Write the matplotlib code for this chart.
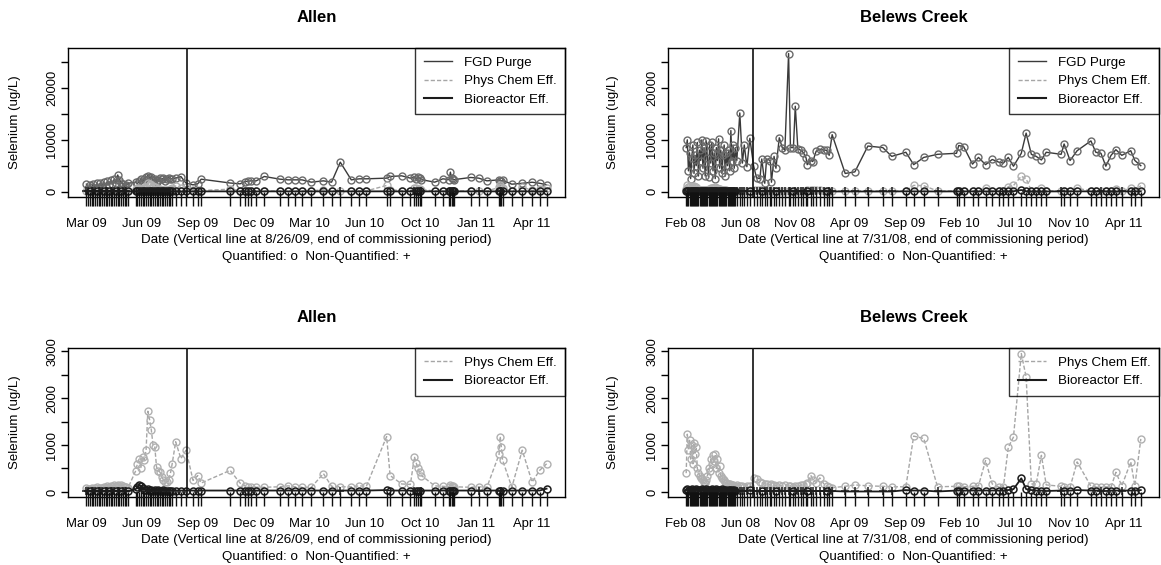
import numpy as np
import pandas as pd
import matplotlib
matplotlib.use("Agg")
import matplotlib.pyplot as plt
import matplotlib.dates as mdates
from matplotlib.lines import Line2D
from matplotlib.ticker import MultipleLocator, FuncFormatter

plt.rcParams['font.family'] = ['Liberation Sans', 'DejaVu Sans']

# ---- Allen: sample days counted from 2009-03-05 ----
allen_start = "2009-03-05"
allen_days = [0, 3, 6, 9, 12, 15, 18, 21, 24, 27, 30, 33, 36, 39, 42, 45, 48, 51, 54, 57, 60, 63, 66, 69, 72,
              85, 88, 91, 94, 97, 100, 103, 106, 109, 112, 115, 118, 121, 124, 127, 130, 133, 136, 139, 142, 145, 148,
              154, 163, 172, 184, 192, 198, 248, 265, 274, 279, 284, 293, 307, 334, 348, 360, 372, 388, 409, 423,
              438, 457, 471, 483, 518, 524, 544, 559, 566, 569, 572, 575, 578, 601, 615, 626, 628, 630, 632, 634,
              663, 677, 691, 712, 714, 716, 718, 734, 752, 769, 782, 794]
allen_fgd = [1420, 600, 1300, 800, 1500, 700, 1600, 900, 1700, 1100, 1800, 1000, 2000, 1300, 2200, 1500, 2400,
             1600, 3200, 2300, 1700, 1400, 1000, 1200, 1600,
             1800, 1500, 2000, 2400, 1900, 2500, 2800, 3100, 2600, 2900, 2200, 2500, 1900, 2300, 2700, 2400, 2600,
             2100, 2500, 2700, 2400, 2500,
             2600, 2900, 1600, 1290, 1490, 2390, 1650, 1490, 1940, 2000, 2070, 2070, 2910, 2390, 2260, 2260, 2260,
             1810, 2070, 1810, 5680, 2260, 2460, 2460, 2590, 2910, 3040, 2590, 2720, 2500, 2800, 2600, 2300, 1810,
             2460, 2300, 3750, 2600, 2460, 2300, 2720, 2590, 2070, 2260, 2100, 2000, 2200, 1420, 1600, 1800, 1600, 1300]
allen_pc = [80, 60, 70, 90, 60, 80, 100, 70, 90, 80, 110, 90, 120, 100, 130, 110, 140, 120, 150, 130, 140, 120,
            110, 100, 90,
            450, 600, 700, 520, 750, 680, 900, 1720, 1540, 1320, 1000, 960, 530, 450, 420, 320, 260, 210, 210, 250,
            400, 600,
            1070, 710, 890, 245, 350, 190, 460, 190, 130, 110, 100, 100, 100, 110, 130, 110, 100, 100, 390, 120,
            110, 110, 130, 120, 1180, 350, 170, 160, 750, 620, 500, 420, 350, 130, 120, 110, 140, 120, 130, 110,
            100, 110, 100, 800, 1180, 950, 680, 100, 890, 210, 460, 600]
allen_bio = [20, 15, 25, 20, 15, 20, 30, 20, 25, 20, 15, 20, 30, 25, 20, 25, 30, 20, 25, 20, 15, 20, 25, 20, 15,
             60, 100, 150, 120, 80, 50, 40, 60, 30, 40, 30, 50, 30, 40, 30, 30, 40, 30, 30, 30, 30, 30,
             30, 30, 30, 30, 25, 30, 30, 30, 25, 30, 30, 30, 30, 30, 30, 30, 30, 30, 30, 30, 30, 30, 30, 30,
             40, 30, 30, 30, 30, 30, 30, 30, 30, 30, 30, 30, 30, 30, 30, 30, 30, 30, 30, 30, 30, 30, 30, 30,
             30, 30, 30, 70]
# o = quantified, + = non-quantified
allen_bio_flag = ("++o+++o+++o++o+++o++o+++o" + "o" * 22 +
                  "o" * 20 + "+" + "o" * 7 + "+" + "o" * 3 + "+" + "o" * 8 + "+" + "o" * 3 + "+" + "o" * 6)
allen_ticks = ["2009-03-05", "2009-06-09", "2009-09-13", "2009-12-18", "2010-03-24",
               "2010-06-28", "2010-10-02", "2011-01-06", "2011-04-12"]
allen_end_commission = "2009-08-26"

# ---- Belews Creek: sample days counted from 2008-02-03 ----
belews_start = "2008-02-03"
belews_days = [0, 3, 6, 9, 12, 15, 18, 21, 24, 27, 30, 33, 36, 39, 42, 45, 48, 51, 54, 57, 60, 63, 66, 69, 72,
               75, 78, 81, 84, 87, 90, 93, 96, 99, 102, 105, 108, 111, 114, 117, 120, 123, 126, 129, 132,
               136, 144, 151, 156, 163, 171, 181, 189, 198, 203, 211, 216, 226, 229, 236, 241, 250, 258, 265,
               275, 280, 288, 293, 300, 308, 315, 322, 325, 335, 340, 349, 359, 369, 377, 384, 392,
               427, 453, 488, 528, 552,
               590, 611, 638, 675, 726, 732, 745, 769, 785, 804, 822, 839, 852, 865, 879, 900, 913, 927, 940,
               954, 967, 1007, 1015, 1031, 1050, 1087, 1100, 1114, 1127, 1141, 1154, 1170, 1194, 1205, 1221]
belews_fgd = [8500, 10000, 4000, 7500, 2500, 6500, 9000, 3500, 7000, 5000, 9500, 3000, 8000, 6000, 10000, 4500,
              8500, 3000, 9800, 6500, 2800, 9000, 5500, 9500, 4000, 7500, 2500, 8500, 6000, 10200, 4500, 8000,
              3500, 7000, 9000, 3000, 7500, 5000, 8000, 4000, 11800, 6000, 9000, 4500, 8500,
              6000, 15200, 5500, 9000, 4800, 10300, 5000, 2600, 2500, 6300, 1600, 6300, 6000, 1800, 6800, 4500,
              10400, 8500, 8000, 26700, 8500, 8500, 16500, 8200, 8000, 7500, 6500, 5200, 6000, 5800, 7800, 8200,
              8000, 8000, 7000, 11000,
              3500, 3800, 8800, 8500, 6800,
              7600, 5200, 6600, 7200, 7400, 8900, 8700, 5300, 6600, 5200, 6200, 5700, 5500, 6600, 4900, 7400,
              11300, 7200, 6800, 6100, 7600, 7200, 9200, 6000, 7900, 9800, 7600, 7400, 4900, 7000, 8100, 7000,
              7900, 6000, 5000]
belews_pc = [400, 1230, 900, 1100, 700, 1000, 600, 1050, 800, 950, 500, 400, 350, 300, 280, 250, 220, 200, 250,
             350, 500, 450, 700, 600, 780, 650, 800, 500, 700, 400, 550, 350, 300, 280, 250, 220, 200, 180, 170,
             160, 150, 150, 140, 130, 130,
             150, 130, 120, 110, 130, 120, 300, 280, 220, 200, 180, 160, 150, 170, 140, 130, 150, 120, 140, 130,
             120, 110, 130, 120, 140, 150, 180, 200, 350, 250, 200, 300, 180, 120, 100, 90,
             120, 150, 130, 120, 110,
             110, 1190, 1140, 110, 120, 120, 110, 120, 130, 670, 170, 110, 110, 950, 1170, 2950, 2450, 170, 170,
             780, 150, 120, 110, 100, 640, 120, 110, 100, 110, 100, 420, 130, 640, 130, 1130]
belews_bio = [40, 60, 30, 50, 40, 70, 30, 50, 40, 60, 30, 50, 40, 30, 60, 40, 50, 30, 60, 40, 30, 50, 40, 70,
              30, 50, 40, 60, 30, 50, 40, 30, 60, 40, 50, 30, 40, 30, 50, 40, 30, 40, 30, 40, 30,
              20, 20, 30, 20, 20, 40, 20, 20, 30, 20, 20, 20, 30, 20, 20, 20, 30, 20, 20, 20, 20, 30, 20, 20,
              20, 20, 20, 30, 20, 20, 20, 20, 20, 30, 20, 20,
              10, 10, 10, 10, 10,
              40, 30, 30, 10, 30, 30, 30, 30, 30, 30, 30, 30, 30, 40, 60, 290, 60, 40, 30, 30, 20, 30, 30, 30,
              40, 30, 30, 30, 20, 30, 30, 30, 30, 30, 40]
belews_bio_flag = ("o" * 45 +
                   "+++++o+++o+++++o+++++o+++++o+++++o++" +
                   "+" * 5 +
                   "ooo+" + "o" * 17 + "+" + "o" * 5 + "+" + "ooo+" + "ooo")
belews_ticks = ["2008-02-01", "2008-06-27", "2008-11-21", "2009-04-17", "2009-09-12",
                "2010-02-06", "2010-07-03", "2010-11-27", "2011-04-24"]
belews_end_commission = "2008-07-31"

W, H = 1161, 565
fig = plt.figure(figsize=(W / 100, H / 100), dpi=100)


def px_axes(left, top, right, bottom):
    return fig.add_axes([left / W, 1 - bottom / H, (right - left) / W, (bottom - top) / H])


ax_tl = px_axes(68, 48, 565, 197)
ax_tr = px_axes(668, 48, 1159, 197)
ax_bl = px_axes(68, 348, 565, 497)
ax_br = px_axes(668, 348, 1159, 497)
ax_tr.sharey(ax_tl)
ax_br.sharey(ax_bl)

FGD_C, PC_C, BIO_C = '#3a3a3a', '#a6a6a6', '#1c1c1c'
FS = 9.6


def to_dates(start, days):
    return (pd.to_datetime(start) + pd.to_timedelta(days, unit='D')).to_numpy()


def draw_series(ax, x, fgd, pc, bio, flag, with_fgd):
    fgd, pc, bio = np.asarray(fgd, float), np.asarray(pc, float), np.asarray(bio, float)
    if with_fgd:
        ax.plot(x, fgd, '-', color=FGD_C, lw=1.0, zorder=2)
        ax.plot(x, fgd, 'o', ms=5, mfc='none', mec='#6a6a6a', mew=1.0, zorder=3)
    ax.plot(x, pc, '--', color=PC_C, lw=1.0, dashes=(3, 1.5), zorder=4)
    ax.plot(x, pc, 'o', ms=5, mfc='none', mec='#b0b0b0', mew=1.0, zorder=4)
    q = np.array([c == 'o' for c in flag])
    ax.plot(x, bio, '-', color=BIO_C, lw=1.3, zorder=5)
    ax.plot(x[q], bio[q], 'o', ms=5, mfc='none', mec=BIO_C, mew=1.1, zorder=6)
    ax.plot(x[~q], bio[~q], '+', ms=6, mec=BIO_C, mew=1.1, zorder=6)


def style_axes(ax, ticks, end_date, top_row):
    ax.margins(x=0.04, y=0.04)
    if top_row:
        ax.yaxis.set_major_locator(MultipleLocator(5000))
        ax.yaxis.set_major_formatter(FuncFormatter(lambda v, p: f"{v:.0f}" if v % 10000 == 0 else ""))
    else:
        ax.yaxis.set_major_locator(MultipleLocator(500))
        ax.yaxis.set_major_formatter(FuncFormatter(lambda v, p: f"{v:.0f}" if v % 1000 == 0 else ""))
    ax.tick_params(axis='y', direction='out', length=5, width=1, labelsize=9.3, pad=2,
                   labelrotation=90)
    ax.set_xticks(pd.to_datetime(ticks).to_numpy())
    ax.xaxis.set_major_formatter(mdates.DateFormatter('%b %y'))
    ax.tick_params(axis='x', length=0, labelsize=9.4, pad=15)
    for s in ax.spines.values():
        s.set_linewidth(1.0)
    ax.axvline(pd.to_datetime(end_date), color='#111111', lw=1.2, zorder=7)


def rug(ax, x):
    ax.set_xlim(ax.get_xlim())
    ax.vlines(x, -0.06, 0.035, transform=ax.get_xaxis_transform(), colors='#111111',
              lw=1.0, clip_on=False, zorder=8)


allen_x = to_dates(allen_start, allen_days)
belews_x = to_dates(belews_start, belews_days)

panels = [
    (ax_tl, allen_x, allen_fgd, allen_pc, allen_bio, allen_bio_flag, allen_ticks, allen_end_commission, True),
    (ax_tr, belews_x, belews_fgd, belews_pc, belews_bio, belews_bio_flag, belews_ticks, belews_end_commission, True),
    (ax_bl, allen_x, allen_fgd, allen_pc, allen_bio, allen_bio_flag, allen_ticks, allen_end_commission, False),
    (ax_br, belews_x, belews_fgd, belews_pc, belews_bio, belews_bio_flag, belews_ticks, belews_end_commission, False),
]
for ax, x, fgd, pc, bio, flag, ticks, end, top_row in panels:
    draw_series(ax, x, fgd, pc, bio, flag, with_fgd=top_row)
    style_axes(ax, ticks, end, top_row)

for ax, x, *_ in panels:
    ax.autoscale_view()
for ax, x, *_ in panels:
    ax.set_ylim(ax.get_ylim())
    rug(ax, x)
for ax, *_ in panels:
    for lab in ax.get_yticklabels():
        lab.set_verticalalignment('center')

# legends: open box, the series stay visible behind it
h_fgd = Line2D([], [], color=FGD_C, lw=1.0)
h_pc = Line2D([], [], color=PC_C, lw=1.0, ls='--', dashes=(3, 1.5))
h_bio = Line2D([], [], color=BIO_C, lw=1.5)
leg_kw = dict(loc='upper right', borderaxespad=0, fancybox=False, facecolor='none', edgecolor='black',
              fontsize=FS, borderpad=0.65, labelspacing=0.45, handlelength=2.1, handletextpad=0.9)
for ax in (ax_tl, ax_tr):
    lg = ax.legend([h_fgd, h_pc, h_bio], ['FGD Purge', 'Phys Chem Eff.', 'Bioreactor Eff.'], **leg_kw)
    lg.get_frame().set_linewidth(1.0)
    lg.set_zorder(10)
for ax in (ax_bl, ax_br):
    lg = ax.legend([h_pc, h_bio], ['Phys Chem Eff.', 'Bioreactor Eff.'], **leg_kw)
    lg.get_frame().set_linewidth(1.0)
    lg.set_zorder(10)

# titles, axis labels and captions
for ax, title, end_txt, ytitle, ylab in [
        (ax_tl, 'Allen', '8/26/09', 17, 15), (ax_tr, 'Belews Creek', '7/31/08', 17, 613),
        (ax_bl, 'Allen', '8/26/09', 317, 15), (ax_br, 'Belews Creek', '7/31/08', 317, 613)]:
    pos = ax.get_position()
    cx = (pos.x0 + pos.x1) / 2
    bottom_px = (1 - pos.y0) * H
    fig.text(cx, 1 - ytitle / H, title, ha='center', va='center', fontsize=12, fontweight='bold')
    fig.text(cx, 1 - (bottom_px + 43) / H,
             f'Date (Vertical line at {end_txt}, end of commissioning period)',
             ha='center', va='center', fontsize=FS)
    fig.text(cx, 1 - (bottom_px + 60) / H, 'Quantified: o  Non-Quantified: +',
             ha='center', va='center', fontsize=FS)
    fig.text(ylab / W, (pos.y0 + pos.y1) / 2, 'Selenium (ug/L)', rotation=90,
             ha='center', va='center', fontsize=9.5)

fig.savefig('out.png', dpi=100, facecolor='white')
